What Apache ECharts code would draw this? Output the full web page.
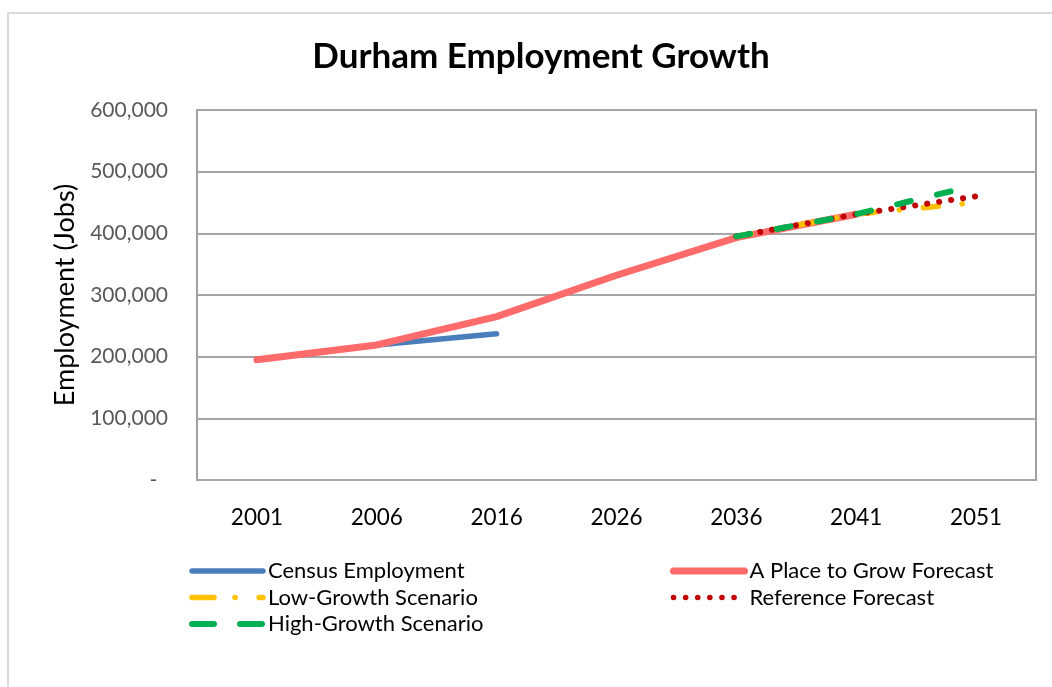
<!DOCTYPE html>
<html>
<head>
<meta charset="utf-8">
<script src="https://cdn.jsdelivr.net/npm/echarts@6/dist/echarts.min.js"></script>
<style>
html,body{margin:0;padding:0;background:#fff;}
#chart{width:1052px;height:687px;}
</style>
</head>
<body>
<div id="chart"></div>
<script>
const years = ['2001', '2006', '2016', '2026', '2036', '2041', '2051'];
const censusEmployment = [195000, 219000, 237000, null, null, null, null];
const placeToGrow = [195000, 219000, 265000, 332000, 393000, 431000, null];
const lowGrowth = [null, null, null, null, 395000, 431000, 450000];
const referenceForecast = [null, null, null, null, 395000, 431000, 460000];
const highGrowth = [null, null, null, null, 395000, 431000, 478000];

const FONT = 'Lato, "Open Sans", sans-serif';
const chart = echarts.init(document.getElementById('chart'), null, {renderer: 'canvas'});

function lineSeries(name, data, color, width, dash, z) {
  return {
    name: name, type: 'line', data: data, symbol: 'none', z: z,
    connectNulls: false, animation: false,
    lineStyle: {color: color, width: width, type: dash, cap: 'round', join: 'round'},
    itemStyle: {color: color}
  };
}
const legendText = {color: '#000', fontSize: 22, fontFamily: FONT};
const hiddenSym = {color: 'rgba(0,0,0,0)', borderColor: 'rgba(0,0,0,0)', borderWidth: 0, opacity: 0};

chart.setOption({
  backgroundColor: '#fff',
  animation: false,
  graphic: [{
    type: 'rect', shape: {x: 8, y: 13, width: 1100, height: 700},
    style: {fill: 'none', stroke: '#d9d9d9', lineWidth: 2}, silent: true, z: -10
  }],
  title: {
    text: 'Durham Employment Growth',
    left: 536, top: 34, textAlign: 'center',
    textStyle: {fontSize: 35, fontWeight: 'bold', color: '#000', fontFamily: FONT}
  },
  grid: {
    left: 197, right: 16, top: 110, bottom: 207,
    show: true, borderColor: '#a0a0a0', borderWidth: 2, backgroundColor: 'transparent'
  },
  legend: [{
    orient: 'vertical', left: 189, top: 560, padding: 0,
    itemWidth: 71, itemHeight: 20, itemGap: 4.5,
    textStyle: legendText, itemStyle: hiddenSym,
    data: [
      {name: 'Census Employment', lineStyle: {width: 5.5, type: 'solid', cap: 'round'}},
      {name: 'Low-Growth Scenario', lineStyle: {width: 5.5, type: [22, 21, 0.1, 24], cap: 'round'}},
      {name: 'High-Growth Scenario', lineStyle: {width: 6, type: [22, 26], cap: 'round'}}
    ]
  }, {
    orient: 'vertical', left: 670, top: 560, padding: 0,
    itemWidth: 71, itemHeight: 20, itemGap: 4.5,
    textStyle: legendText, itemStyle: hiddenSym,
    data: [
      {name: 'A Place to Grow Forecast', lineStyle: {width: 7, type: 'solid', cap: 'round'}},
      {name: 'Reference Forecast', lineStyle: {width: 5.5, type: [0.1, 12], cap: 'round'}}
    ]
  }],
  xAxis: {
    type: 'category', data: years, boundaryGap: true,
    axisLine: {show: false}, axisTick: {show: false},
    axisLabel: {color: '#000', fontSize: 22.5, fontFamily: FONT, margin: 26}
  },
  yAxis: {
    type: 'value', min: 0, max: 600000, interval: 100000,
    name: 'Employment (Jobs)', nameLocation: 'middle', nameGap: 96, nameRotate: 90,
    nameTextStyle: {color: '#000', fontSize: 27, fontFamily: FONT},
    axisLine: {show: false}, axisTick: {show: false},
    splitLine: {lineStyle: {color: '#a6a6a6', width: 2}},
    axisLabel: {
      color: '#595959', fontSize: 21, fontFamily: FONT, margin: 29,
      formatter: function (v) { return v === 0 ? '-  ' : v.toLocaleString('en-US'); }
    }
  },
  series: [
    lineSeries('Census Employment', censusEmployment, '#4a7ebb', 5.5, 'solid', 2),
    lineSeries('A Place to Grow Forecast', placeToGrow, '#ff6b6b', 7, 'solid', 3),
    lineSeries('Low-Growth Scenario', lowGrowth, '#ffc000', 5.5, [15, 24, 0.1, 24], 4),
    lineSeries('Reference Forecast', referenceForecast, '#c00000', 6, [0.1, 12], 5),
    lineSeries('High-Growth Scenario', highGrowth, '#00b050', 6, [14, 27], 6)
  ]
});
</script>
</body>
</html>
